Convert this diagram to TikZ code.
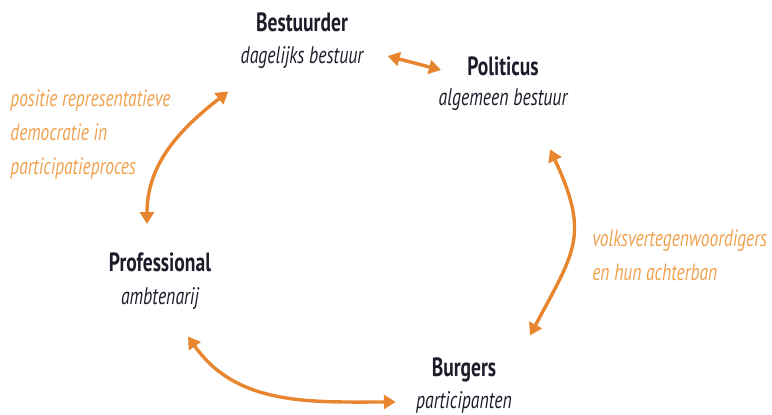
\documentclass[tikz,border=0pt]{standalone}
\usepackage{fontspec}
\setmainfont{PT Sans}[FakeStretch=0.74]
\usetikzlibrary{arrows.meta}
\definecolor{roleink}{HTML}{1C1C2A}
\definecolor{linkorange}{HTML}{E8852F}
\definecolor{noteorange}{HTML}{F0A14E}
\begin{document}
\begin{tikzpicture}[x=0.5pt, y=0.5pt,
    role/.style={inner sep=0pt, text=roleink, font=\bfseries\fontsize{13.2}{14}\selectfont},
    task/.style={inner sep=0pt, text=roleink, font=\itshape\fontsize{12}{13}\selectfont},
    note/.style={inner sep=0pt, anchor=west, align=left, text=noteorange, font=\itshape\fontsize{11.8}{17}\selectfont},
    link/.style={draw=linkorange, line width=1.7pt, {Triangle[length=6pt,width=7pt]}-{Triangle[length=6pt,width=7pt]}}]
  \useasboundingbox (0,0) rectangle (772,-414);

  \node[role] (bestuurder) at (302, -22) {Bestuurder};
  \node[task] (dagelijks) at (302, -58) {dagelijks bestuur};
  \node[role] (politicus) at (503, -66) {Politicus};
  \node[task] (algemeen) at (503, -100) {algemeen bestuur};
  \node[role] (professional) at (160, -262) {Professional};
  \node[task] (ambtenarij) at (160, -298) {ambtenarij};
  \node[role] (burgers) at (464, -370) {Burgers};
  \node[task] (participanten) at (464, -402) {participanten};

  \node[note] (positie) at (10, -134) {positie representatieve\\democratie in\\participatieproces};
  \node[note] (volks) at (592, -255) {\fontsize{11.8}{15}\selectfont volksvertegenwoordigers\\en hun achterban};

  \draw [link] ([xshift=12pt, yshift=1pt]dagelijks.east) -- ([xshift=-13pt, yshift=-2pt]politicus.west);
  \draw [link] ([shift={(-6pt,-11pt)}]dagelijks.south west) to [out=218, in=90] ([shift={(-6.5pt,14pt)}]professional.north);
  \draw [link] ([shift={(23.5pt,-19pt)}]algemeen.south) to [out=-65, in=62, looseness=1.3] ([shift={(33pt,11pt)}]burgers.north);
  \draw [link] ([shift={(14pt,-13.5pt)}]ambtenarij.south) to [out=-55, in=180] ([xshift=-10pt]participanten.west);
\end{tikzpicture}
\end{document}
